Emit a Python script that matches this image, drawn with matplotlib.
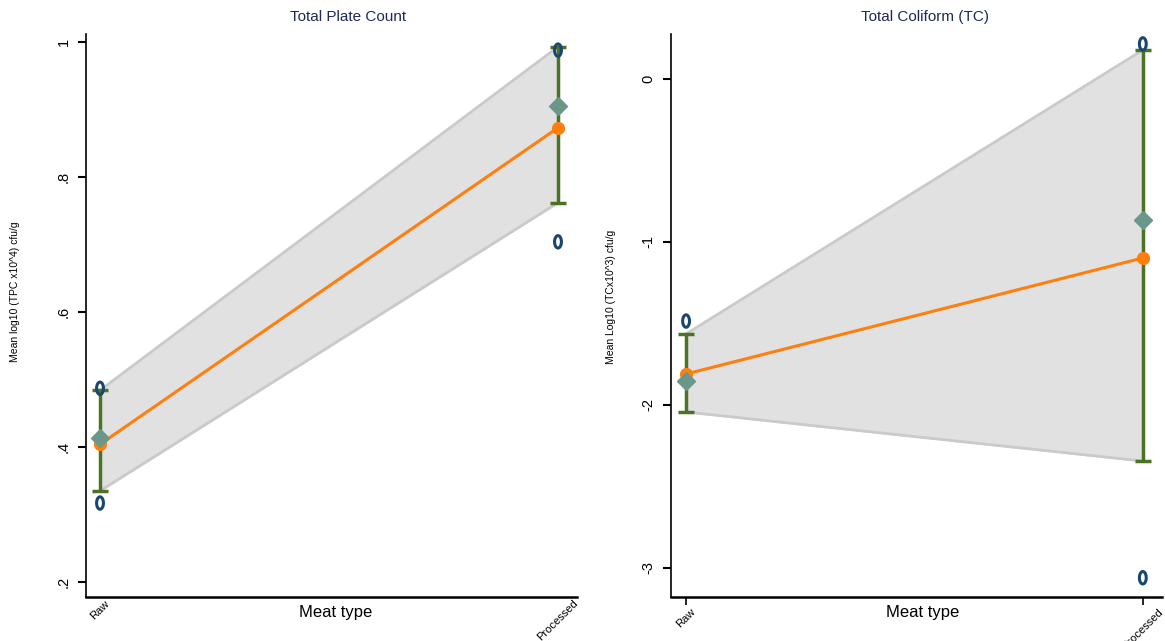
import matplotlib
matplotlib.use("Agg")
import matplotlib.pyplot as plt
import numpy as np
from matplotlib.path import Path

categories = ["Raw", "Processed"]

# Total Plate Count
tpc_mean = [0.404, 0.873]
tpc_median = [0.413, 0.905]
tpc_ci_low = [0.335, 0.762]
tpc_ci_high = [0.484, 0.993]
tpc_out_x = [0, 0, 1, 1]
tpc_out_y = [0.487, 0.317, 0.988, 0.704]

# Total Coliform
tc_mean = [-1.81, -1.098]
tc_median = [-1.853, -0.865]
tc_ci_low = [-2.043, -2.344]
tc_ci_high = [-1.564, 0.178]
tc_out_x = [0, 1, 1]
tc_out_y = [-1.485, 0.215, -3.06]

tpc_ticks = [0.2, 0.4, 0.6, 0.8, 1.0]
tpc_ticklabels = [".2", ".4", ".6", ".8", "1"]
tc_ticks = [-3, -2, -1, 0]
tc_ticklabels = ["-3", "-2", "-1", "0"]

plt.rcParams['font.family'] = ['Liberation Sans', 'DejaVu Sans']

t = np.linspace(0, 2 * np.pi, 60)
ell = Path(np.column_stack([0.55 * np.cos(t), np.sin(t)]), closed=True)

navy = "#1a476f"
green = "#4c7325"
orange = "#ff7f0e"
diam = "#6b978a"

W, H = 1165, 641
fig = plt.figure(figsize=(11.65, 6.41), dpi=100)

def panel(rect, mean, med, lo, hi, ox, oy, ticks, tlabels, ylim, xlim, title, title_x,
          ylabel, ylabel_px, xlabel_x, xticks_marks):
    ax = fig.add_axes(rect)
    x = np.arange(len(categories))
    ax.fill_between(x, lo, hi, color="#e1e1e1", zorder=1)
    ax.plot(x, lo, color="#cacaca", lw=2, zorder=1.5)
    ax.plot(x, hi, color="#cacaca", lw=2, zorder=1.5)
    ax.errorbar(x, mean, yerr=[np.array(mean) - np.array(lo), np.array(hi) - np.array(mean)],
                fmt="none", ecolor=green, elinewidth=2.5, capsize=6, capthick=2.5, zorder=2)
    ax.plot(x, mean, color=orange, lw=2.2, zorder=3)
    ax.plot(x, mean, "o", color=orange, ms=8.5, zorder=3)
    ax.plot(x, med, "D", color=diam, ms=9.5, zorder=4)
    ax.scatter(ox, oy, marker=ell, s=80, facecolors="none", edgecolors=navy, linewidths=2.2, zorder=5)
    ax.set_xlim(*xlim)
    ax.set_ylim(*ylim)
    ax.set_yticks(ticks)
    ax.set_yticklabels(tlabels, rotation=90, va="center", fontsize=10.5)
    ax.set_xticks(x)
    ax.set_xticklabels(categories, rotation=45, ha="center", fontsize=8)
    ax.tick_params(axis="y", length=6, width=1.5, pad=5)
    ax.tick_params(axis="x", length=6 if xticks_marks else 0, width=1.2, pad=1)
    for s in ["top", "right"]:
        ax.spines[s].set_visible(False)
    ax.spines["left"].set_linewidth(1.2)
    ax.spines["bottom"].set_linewidth(1.8)
    fig.text(title_x / W, 1 - 17 / H, title, color="#1c2a55", fontsize=11, ha="center", va="center")
    fig.text(xlabel_x / W, 1 - 612 / H, "Meat type", fontsize=12, ha="center", va="center")
    fig.text(ylabel_px[0] / W, 1 - ylabel_px[1] / H, ylabel, fontsize=7.5, rotation=90,
             ha="center", va="center")
    return ax

panel([86 / W, 1 - 597 / H, 491 / W, 563 / H], tpc_mean, tpc_median, tpc_ci_low, tpc_ci_high,
      tpc_out_x, tpc_out_y, tpc_ticks, tpc_ticklabels, (0.1778, 1.0119), (-0.0306, 1.0415),
      "Total Plate Count", 348, "Mean log10 (TPC x10^4) cfu/g", (15, 292), 336, False)
panel([671 / W, 1 - 597 / H, 491 / W, 563 / H], tc_mean, tc_median, tc_ci_low, tc_ci_high,
      tc_out_x, tc_out_y, tc_ticks, tc_ticklabels, (-3.178, 0.276), (-0.033, 1.042),
      "Total Coliform (TC)", 925, "Mean Log10 (TCx10^3) cfu/g", (611, 297), 923, True)

fig.savefig("out.png", dpi=100, facecolor="white")
